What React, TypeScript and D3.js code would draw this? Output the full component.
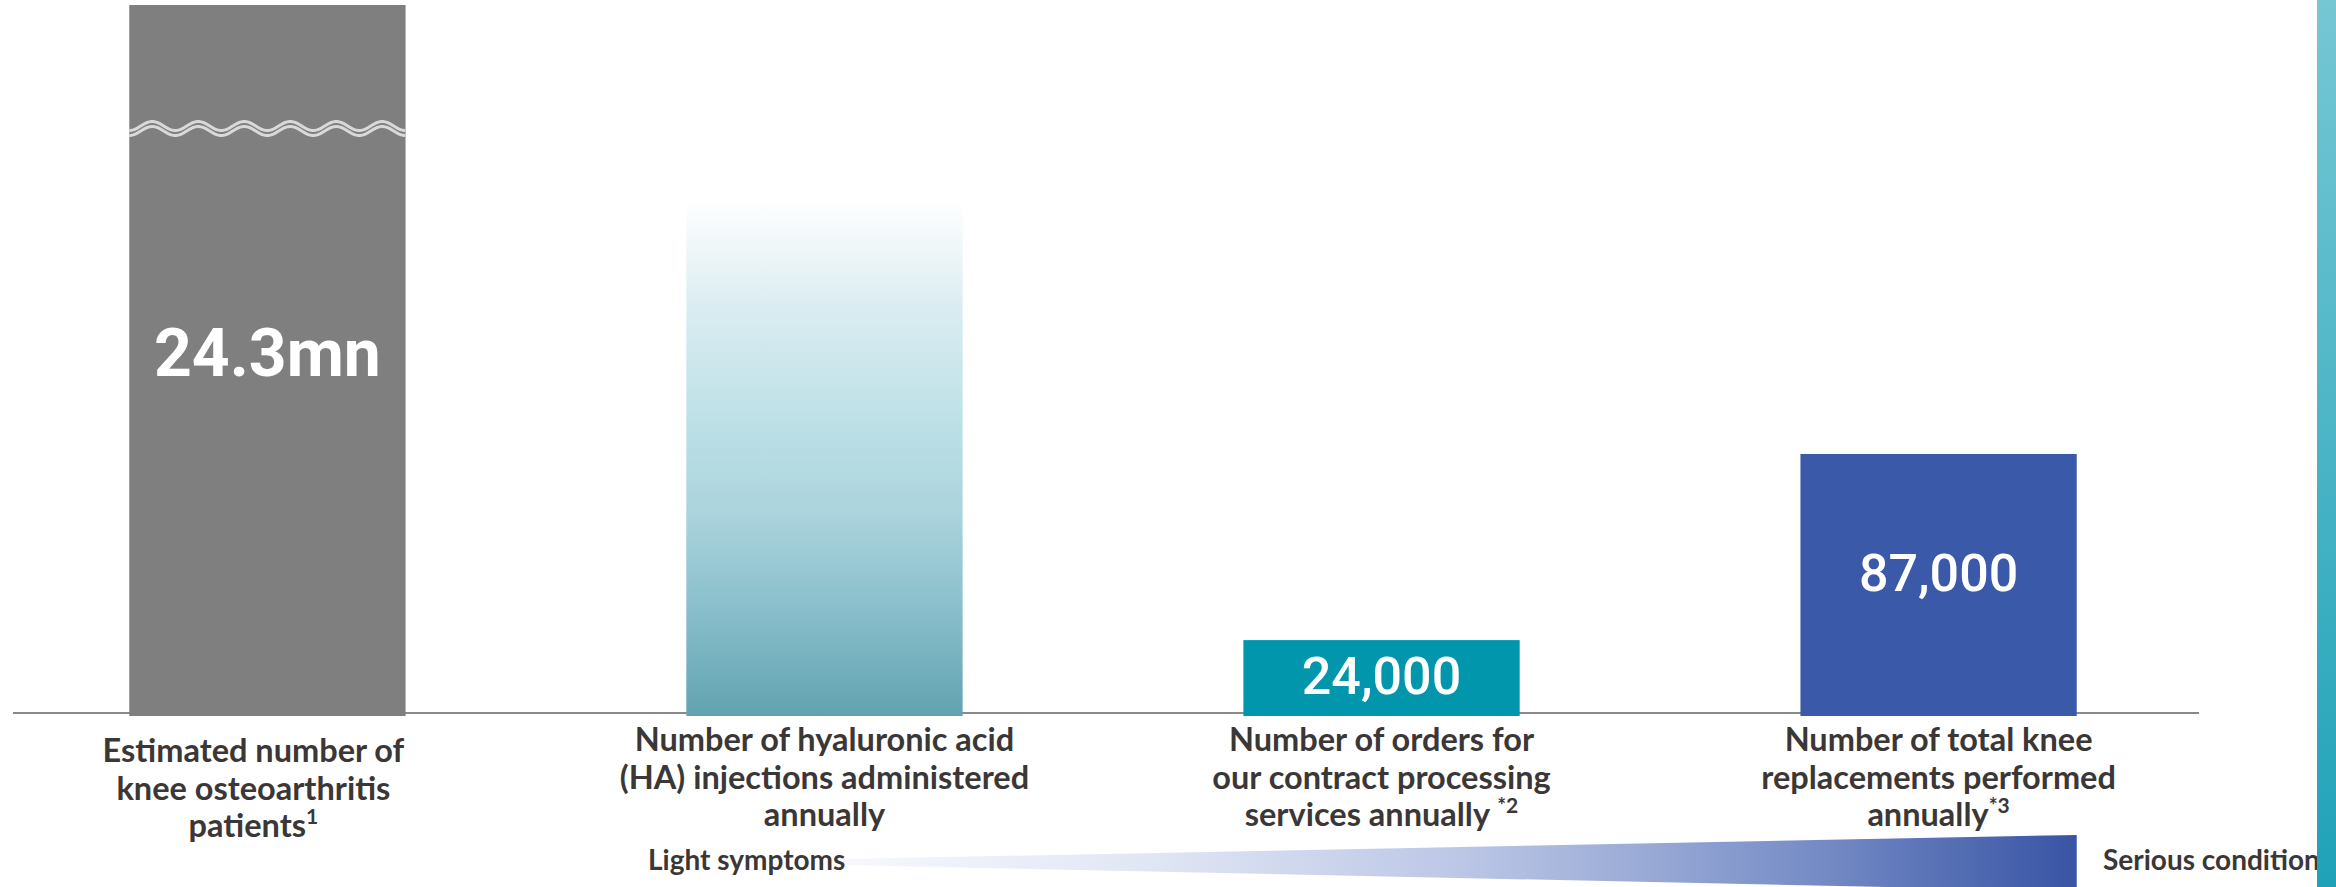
import React, { useEffect } from 'react';
import * as d3 from 'd3';

// Knee osteoarthritis treatment funnel
const categories = ['oaPatients', 'haInjections', 'contractOrders', 'kneeReplacements'];
const values = [24300000, 173000, 24000, 87000];
const valueLabels = ['24.3mn', '', '24,000', '87,000'];
const labelLines = [
  ['Estimated number of', 'knee osteoarthritis', 'patients'],
  ['Number of hyaluronic acid', '(HA) injections administered', 'annually'],
  ['Number of orders for', 'our contract processing', 'services annually '],
  ['Number of total knee', 'replacements performed', 'annually'],
];
const labelNotes = ['1', '', '*2', '*3'];
const severityLabels = ['Light symptoms', 'Serious condition'];

const W = 2336;
const H = 887;
const zeroY = 711;
const topY = 5;
const axisY = 713;
const textColor = '#3b3736';
const labelFont = 'Lato, "Noto Sans", sans-serif';
const numberFont = 'Roboto, "Noto Sans", sans-serif';

export default function App() {
  useEffect(() => {
    document.body.style.margin = '0';
  }, []);

  const x = d3
    .scaleBand<string>()
    .domain(categories)
    .range([-10, 2216])
    .paddingInner(0.504)
    .paddingOuter(0.25);

  // Linear value scale; the first bar runs past the top and is shown broken.
  const y = d3.scaleLinear().domain([0, 239000]).range([zeroY, topY]).clamp(true);

  const barFill = ['#7f7f7f', 'url(#haGrad)', '#0296ad', '#3a59a8'];

  const bw = x.bandwidth();
  const x0 = x(categories[0]) as number;

  // Break mark across the first bar
  const wavePath = (cy: number) =>
    d3
      .line<number>()
      .x((d) => d)
      .y((d) => cy - 4.5 * Math.cos((2 * Math.PI * (d - x0 - 23)) / 46))(
      d3.range(x0, x0 + bw + 0.5, 1)
    );

  const xLast = (x(categories[3]) as number) + bw;

  return (
    <div style={{ position: 'absolute', left: 0, top: 0 }}>
      <svg width={W} height={H} style={{ display: 'block', background: '#ffffff' }}>
        <defs>
          <linearGradient id="haGrad" x1="0" y1="1" x2="0" y2="0">
            <stop offset="0" stopColor="#62a2b0" />
            <stop offset="0.2" stopColor="#88becb" />
            <stop offset="0.4" stopColor="#acd4dd" />
            <stop offset="0.6" stopColor="#c0e2e8" />
            <stop offset="0.8" stopColor="#dcedf2" />
            <stop offset="1" stopColor="#ffffff" />
          </linearGradient>
          <linearGradient id="severityGrad" x1="0" y1="0" x2="1" y2="0">
            <stop offset="0" stopColor="#f6f8fc" />
            <stop offset="0.25" stopColor="#e1e6f4" />
            <stop offset="0.5" stopColor="#bcc7e6" />
            <stop offset="0.65" stopColor="#9aaad6" />
            <stop offset="0.8" stopColor="#7289c4" />
            <stop offset="1" stopColor="#3854a4" />
          </linearGradient>
          <linearGradient id="stripeGrad" x1="0" y1="0" x2="0" y2="1">
            <stop offset="0" stopColor="#76c7d4" />
            <stop offset="1" stopColor="#1fa2b8" />
          </linearGradient>
        </defs>

        {/* baseline */}
        <line x1={13} x2={2199} y1={axisY} y2={axisY} stroke="#8a8a8a" strokeWidth={2} />

        {/* bars */}
        {categories.map((c, i) => (
          <rect
            key={c}
            x={x(c)}
            y={y(values[i])}
            width={bw}
            height={zeroY - y(values[i]) + 5}
            fill={barFill[i]}
          />
        ))}

        {/* axis break on the first bar */}
        <path d={wavePath(126) || ''} fill="none" stroke="#d9d9d9" strokeWidth={3} />
        <path d={wavePath(131) || ''} fill="none" stroke="#d9d9d9" strokeWidth={3} />

        {/* value labels */}
        {categories.map((c, i) => {
          if (!valueLabels[i]) return null;
          const top = y(values[i]);
          const cy = i === 0 ? 353 : i === 3 ? 573 : (top + zeroY) / 2;
          return (
            <text
              key={c}
              x={(x(c) as number) + bw / 2}
              y={cy}
              dy="0.355em"
              textAnchor="middle"
              fill="#ffffff"
              fontFamily={numberFont}
              fontWeight={i === 0 ? 700 : 500}
              fontSize={i === 0 ? 66 : 52}
            >
              {valueLabels[i]}
            </text>
          );
        })}

        {/* category labels */}
        {categories.map((c, i) => {
          const cx = (x(c) as number) + bw / 2 - (i === 0 ? 14 : 0);
          const firstBase = i === 0 ? 762 : 751;
          return (
            <text
              key={c}
              textAnchor="middle"
              fill={textColor}
              fontFamily={labelFont}
              fontWeight={700}
              fontSize={32.5}
            >
              {labelLines[i].map((ln, j) => (
                <tspan key={j} x={cx} y={firstBase + j * 37.5}>
                  {ln}
                  {j === labelLines[i].length - 1 && labelNotes[i] ? (
                    <tspan dy={-13} fontSize={21} fontWeight={700}>
                      {labelNotes[i]}
                    </tspan>
                  ) : null}
                </tspan>
              ))}
            </text>
          );
        })}

        {/* severity scale */}
        <polygon
          points={`843,859 ${xLast},835 ${xLast},891 843,865`}
          fill="url(#severityGrad)"
        />
        <text
          x={648}
          y={870}
          fill={textColor}
          fontFamily={labelFont}
          fontWeight={700}
          fontSize={28}
        >
          {severityLabels[0]}
        </text>
        <text
          x={2103}
          y={870}
          fill={textColor}
          fontFamily={labelFont}
          fontWeight={700}
          fontSize={28}
        >
          {severityLabels[1]}
        </text>

        {/* side stripe */}
        <rect x={2317} y={0} width={19} height={H} fill="url(#stripeGrad)" />
      </svg>
    </div>
  );
}
